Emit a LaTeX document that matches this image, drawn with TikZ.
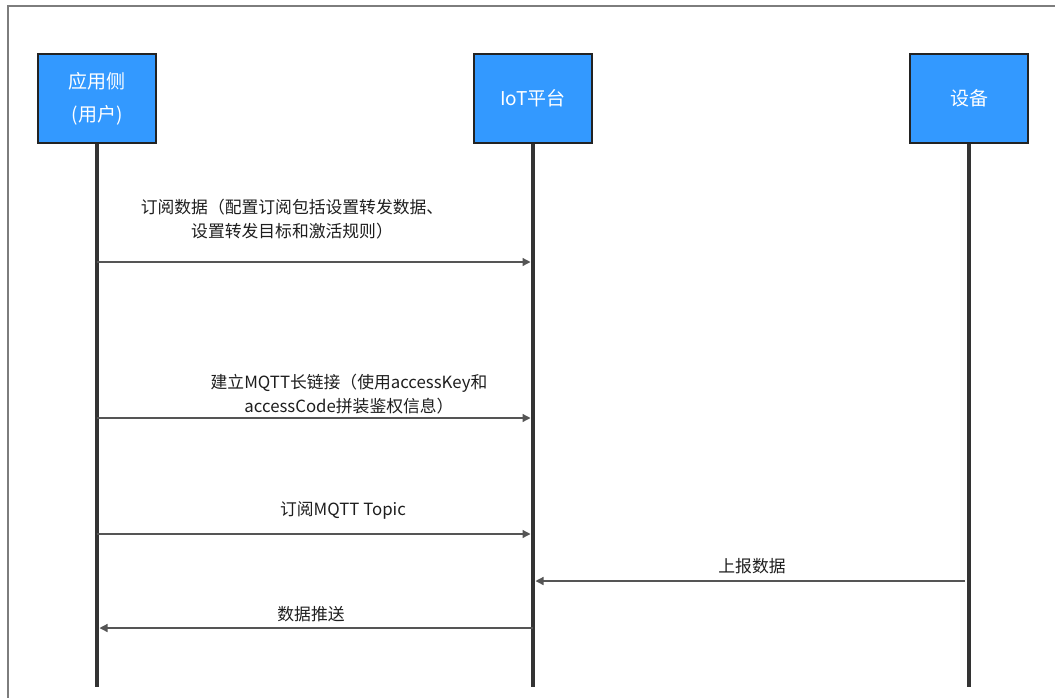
\documentclass[tikz,border=0pt]{standalone}
\usepackage{fontspec}
\newfontfamily\cjk{Noto Sans CJK SC}
\usetikzlibrary{arrows.meta, positioning, calc}
\definecolor{actorfill}{RGB}{51,153,255}
\definecolor{actordraw}{RGB}{35,35,35}
\definecolor{lifegrey}{RGB}{51,51,51}
\definecolor{msggrey}{RGB}{85,85,85}
\definecolor{framegrey}{RGB}{125,125,125}
\definecolor{labtext}{RGB}{30,30,30}
\tikzset{
  actor/.style    = {rectangle, draw=actordraw, line width=1.2pt, fill=actorfill,
                     text=white, align=center, minimum width=118pt, minimum height=89pt,
                     font=\cjk\fontsize{19}{33}\selectfont, inner sep=2pt},
  lifeline/.style = {line width=4.8pt, draw=lifegrey},
  msg/.style      = {-{Triangle[length=8pt,width=8pt]}, line width=1.3pt, draw=msggrey,
                     shorten >=2.5pt},
  msglab/.style   = {font=\cjk\fontsize{16.8}{23.5}\selectfont, text=labtext, align=center,
                     inner sep=0pt},
}
\begin{document}
\begin{tikzpicture}[x=1pt,y=-1pt]
\useasboundingbox (0,0) rectangle (1055,697);

% ---------- Frame (cropped at right and bottom) ----------
\draw[framegrey, line width=1.5pt] (1056,6) -- (8,6) -- (8,698);

% ---------- Actors ----------
\node[actor] (app) at (97,98.5) {应用侧\\(用户)};
\node[actor] (iot) at (533,98.5) {IoT平台};
\node[actor] (dev) at (969,98.5) {设备};

% ---------- Lifelines ----------
\foreach \who in {app,iot,dev}
  \draw[lifeline] (\who.south) -- (\who |- 0,687) coordinate (\who end);

% ---------- Messages ----------
\draw[msg] (app |- 0,262) -- (iot |- 0,262);
\node[msglab] (subscribe) at (292,219) {订阅数据（配置订阅包括设置转发数据、\\设置转发目标和激活规则）};

\draw[msg] (app |- 0,418) -- (iot |- 0,418);
\node[msglab] (connect) at (349,394) {建立MQTT长链接（使用accessKey和\\accessCode拼装鉴权信息）};

\draw[msg] (app |- 0,534) -- (iot |- 0,534);
\node[msglab] (topic) at (343,510) {订阅MQTT Topic};

\draw[msg] ($(dev |- 0,581)+(-4,0)$) -- (iot |- 0,581);
\node[msglab] (report) at (752,566) {上报数据};

\draw[msg] (iot |- 0,628) -- (app |- 0,628);
\node[msglab] (push) at (311,614) {数据推送};

\end{tikzpicture}
\end{document}
